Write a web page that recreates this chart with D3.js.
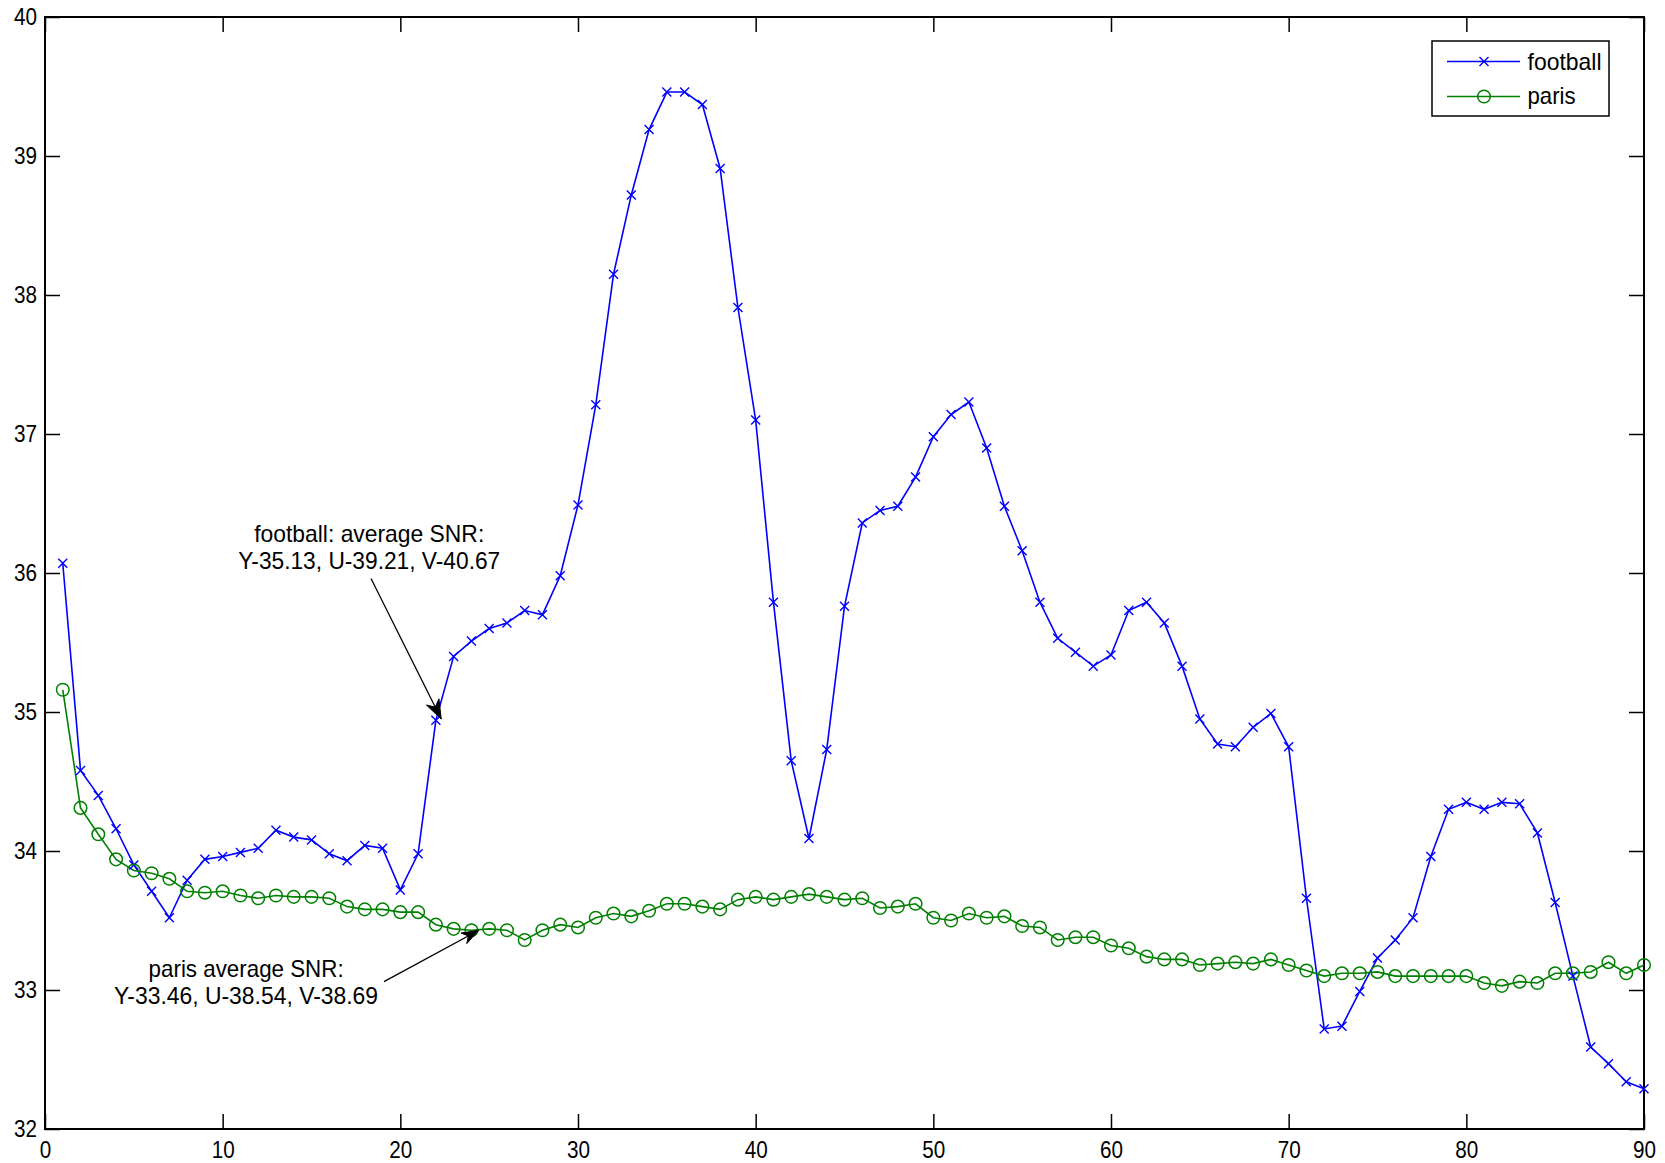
<!DOCTYPE html>
<html>
<head>
<meta charset="utf-8">
<script src="https://cdn.jsdelivr.net/npm/d3@7"></script>
<style>
  html, body { margin: 0; padding: 0; background: #ffffff; }
  svg { display: block; }
  text { font-family: "Liberation Sans", Arial, sans-serif; fill: #000; }
</style>
</head>
<body>
<script>
// ---------- data ----------
const frames = d3.range(1, 91);
const football = [36.07,34.58,34.40,34.16,33.90,33.71,33.52,33.79,33.94,33.96,
  33.99,34.02,34.15,34.10,34.08,33.98,33.93,34.04,34.02,33.72,
  33.98,34.94,35.40,35.51,35.60,35.64,35.73,35.70,35.98,36.49,
  37.21,38.15,38.72,39.19,39.46,39.46,39.37,38.91,37.91,37.10,
  35.79,34.65,34.09,34.73,35.76,36.36,36.45,36.48,36.69,36.98,
  37.14,37.23,36.90,36.48,36.16,35.79,35.53,35.43,35.33,35.41,
  35.73,35.79,35.64,35.33,34.95,34.77,34.75,34.89,34.99,34.75,
  33.66,32.72,32.74,32.99,33.23,33.36,33.52,33.96,34.30,34.35,
  34.30,34.35,34.34,34.13,33.63,33.10,32.59,32.47,32.34,32.29];
const paris = [35.16,34.31,34.12,33.94,33.86,33.84,33.80,33.71,33.70,33.71,
  33.68,33.66,33.68,33.67,33.67,33.66,33.60,33.58,33.58,33.56,
  33.56,33.47,33.44,33.43,33.44,33.43,33.36,33.43,33.47,33.45,
  33.52,33.55,33.53,33.57,33.62,33.62,33.60,33.58,33.65,33.67,
  33.65,33.67,33.69,33.67,33.65,33.66,33.59,33.60,33.62,33.52,
  33.50,33.55,33.52,33.53,33.46,33.45,33.36,33.38,33.38,33.32,
  33.30,33.24,33.22,33.22,33.18,33.19,33.20,33.19,33.22,33.18,
  33.14,33.10,33.12,33.12,33.13,33.10,33.10,33.10,33.10,33.10,
  33.05,33.03,33.06,33.05,33.12,33.12,33.13,33.20,33.12,33.18];
const seriesNames = ["football", "paris"];
const xTicks = [0,10,20,30,40,50,60,70,80,90];
const yTicks = [32,33,34,35,36,37,38,39,40];
const footballNote = ["football: average SNR:", "Y-35.13, U-39.21, V-40.67"];
const parisNote = ["paris average SNR:", "Y-33.46, U-38.54, V-38.69"];

// ---------- layout ----------
const W = 1665, H = 1163;
const L = 45, R = 1644, T = 17, B = 1129;
const BLUE = "#0000ff", GREEN = "#008000";
const FS = 24;          // font size (tall, narrow bitmap-like font in reference)
const CHAR_W = 11.5;    // digit advance width in reference

const svg = d3.select("body").append("svg").attr("width", W).attr("height", H);

const x = d3.scaleLinear().domain([0, 90]).range([L, R]);
const y = d3.scaleLinear().domain([32, 40]).range([B, T]);

// axes (ticks inward on all four sides)
const tickLen = 15;
function styleAxis(g) {
  g.select(".domain").remove();
  g.selectAll(".tick line").attr("stroke", "#000").attr("stroke-width", 1.5);
  g.selectAll(".tick text").attr("font-size", FS).attr("fill", "#000")
    .attr("font-family", "Liberation Sans, Arial, sans-serif")
    .attr("lengthAdjust", "spacingAndGlyphs")
    .attr("textLength", function () { return this.textContent.length * CHAR_W; });
}
svg.append("g").attr("transform", `translate(0,${B})`)
  .call(d3.axisBottom(x).tickValues(xTicks).tickSize(-tickLen).tickPadding(12).tickFormat(d3.format("d")))
  .call(styleAxis);
svg.append("g").attr("transform", `translate(0,${T})`)
  .call(d3.axisTop(x).tickValues(xTicks).tickSize(-tickLen).tickFormat(""))
  .call(g => { g.select(".domain").remove(); g.selectAll(".tick line").attr("stroke", "#000").attr("stroke-width", 1.5); });
svg.append("g").attr("transform", `translate(${L},0)`)
  .call(d3.axisLeft(y).tickValues(yTicks).tickSize(-tickLen).tickPadding(8).tickFormat(d3.format("d")))
  .call(styleAxis);
svg.append("g").attr("transform", `translate(${R},0)`)
  .call(d3.axisRight(y).tickValues(yTicks).tickSize(-tickLen).tickFormat(""))
  .call(g => { g.select(".domain").remove(); g.selectAll(".tick line").attr("stroke", "#000").attr("stroke-width", 1.5); });

// box
svg.append("rect").attr("x", L).attr("y", T).attr("width", R - L).attr("height", B - T)
  .attr("fill", "none").attr("stroke", "#000").attr("stroke-width", 2);

// ---------- lines ----------
const line = d3.line().x((d, i) => x(frames[i])).y(d => y(d));
const plot = svg.append("g");

plot.append("path").datum(football).attr("d", line)
  .attr("fill", "none").attr("stroke", BLUE).attr("stroke-width", 1.6);
plot.append("path").datum(paris).attr("d", line)
  .attr("fill", "none").attr("stroke", GREEN).attr("stroke-width", 1.6);

const xs = 4.5;
plot.append("g").selectAll("path").data(football).join("path")
  .attr("d", (d, i) => {
    const cx = x(frames[i]), cy = y(d);
    return `M${cx - xs},${cy - xs}L${cx + xs},${cy + xs}M${cx - xs},${cy + xs}L${cx + xs},${cy - xs}`;
  })
  .attr("stroke", BLUE).attr("stroke-width", 1.4).attr("fill", "none");

plot.append("g").selectAll("circle").data(paris).join("circle")
  .attr("cx", (d, i) => x(frames[i])).attr("cy", d => y(d)).attr("r", 6.3)
  .attr("fill", "none").attr("stroke", GREEN).attr("stroke-width", 1.5);

// ---------- annotations ----------
function arrow(x1, y1, x2, y2, len, half) {
  svg.append("line").attr("x1", x1).attr("y1", y1).attr("x2", x2).attr("y2", y2)
    .attr("stroke", "#000").attr("stroke-width", 1.3);
  const a = Math.atan2(y2 - y1, x2 - x1);
  const bx = x2 - len * Math.cos(a), by = y2 - len * Math.sin(a);
  const px = -Math.sin(a) * half, py = Math.cos(a) * half;
  svg.append("path")
    .attr("d", `M${x2},${y2}L${bx + px},${by + py}L${bx + len * 0.3 * Math.cos(a)},${by + len * 0.3 * Math.sin(a)}L${bx - px},${by - py}Z`)
    .attr("fill", "#000").attr("stroke", "#000").attr("stroke-width", 1);
}
function note(lines, widths, cx, base1, base2) {
  [[lines[0], widths[0], base1], [lines[1], widths[1], base2]].forEach(([s, w, b]) => {
    svg.append("text").attr("text-anchor", "middle").attr("font-size", FS)
      .attr("x", x(cx)).attr("y", y(b))
      .attr("lengthAdjust", "spacingAndGlyphs").attr("textLength", w)
      .text(s);
  });
}
note(footballNote, [230, 262], 18.25, 36.226, 36.03);
arrow(x(18.35), y(35.96), x(22.3), y(34.95), 19, 7);
note(parisNote, [195, 264], 11.32, 33.094, 32.899);
arrow(x(19.08), y(33.06), x(24.42), y(33.43), 17, 6);

// ---------- legend ----------
const lg = svg.append("g");
lg.append("rect").attr("x", 1432).attr("y", 41).attr("width", 177).attr("height", 75)
  .attr("fill", "#fff").attr("stroke", "#000").attr("stroke-width", 1.5);
const legendItems = [
  {name: seriesNames[0], color: BLUE, cy: 61.5, base: 69.5, w: 74, marker: "x"},
  {name: seriesNames[1], color: GREEN, cy: 96.5, base: 104, w: 48, marker: "o"}
];
legendItems.forEach(it => {
  lg.append("line").attr("x1", 1447).attr("x2", 1520).attr("y1", it.cy).attr("y2", it.cy)
    .attr("stroke", it.color).attr("stroke-width", 1.6);
  if (it.marker === "x") {
    lg.append("path").attr("d", `M${1484 - xs},${it.cy - xs}L${1484 + xs},${it.cy + xs}M${1484 - xs},${it.cy + xs}L${1484 + xs},${it.cy - xs}`)
      .attr("stroke", it.color).attr("stroke-width", 1.4);
  } else {
    lg.append("circle").attr("cx", 1484).attr("cy", it.cy).attr("r", 6.3)
      .attr("fill", "none").attr("stroke", it.color).attr("stroke-width", 1.5);
  }
  lg.append("text").attr("x", 1527.5).attr("y", it.base)
    .attr("font-size", FS).attr("lengthAdjust", "spacingAndGlyphs").attr("textLength", it.w)
    .text(it.name);
});
</script>
</body>
</html>
